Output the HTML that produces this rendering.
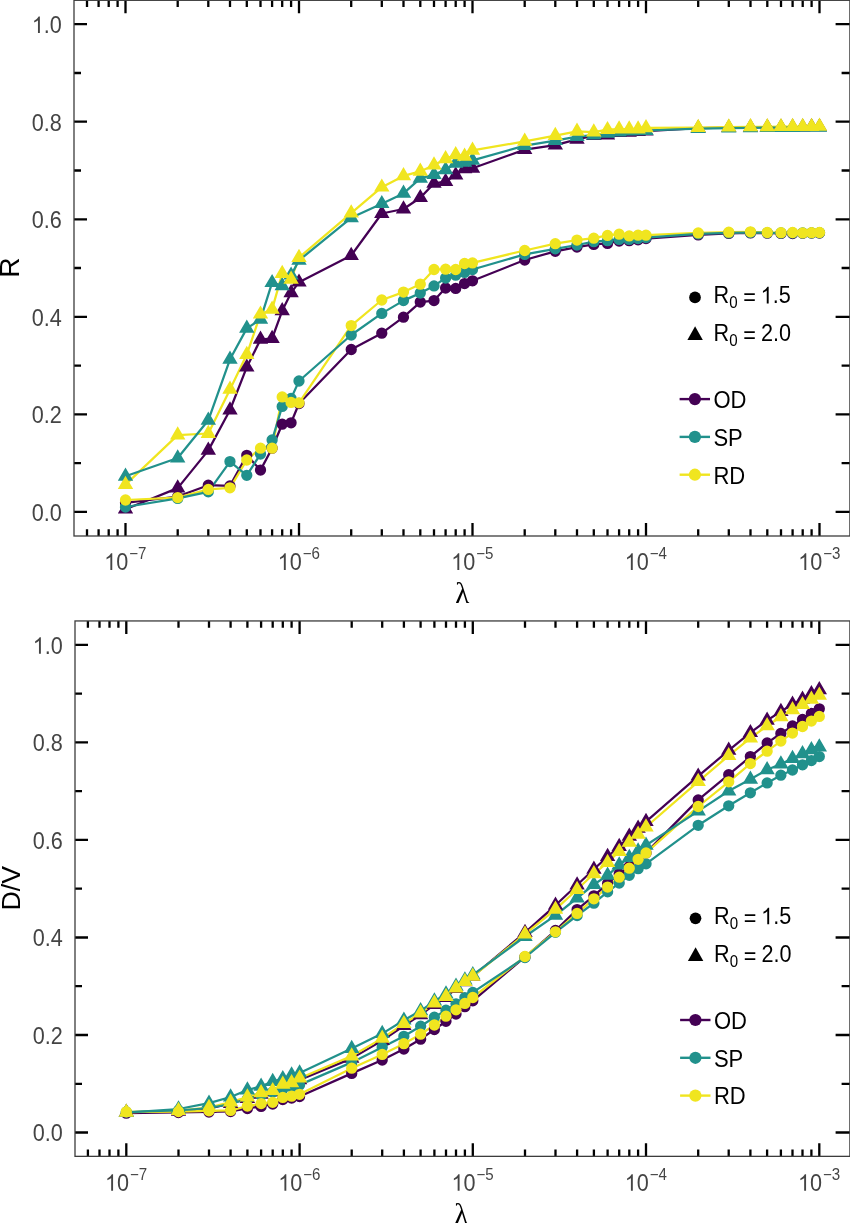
<!DOCTYPE html>
<html><head><meta charset="utf-8"><title>chart</title>
<style>html,body{margin:0;padding:0;background:#fff}svg{display:block;will-change:transform}text{font-family:"Liberation Sans",sans-serif}text.ser{font-family:"Liberation Serif",serif}</style></head><body>
<svg width="850" height="1223" viewBox="0 0 850 1223">
<rect width="850" height="1223" fill="#fff"/>
<polyline points="125.5,502.8 177.7,496.5 208.3,485.2 230.0,485.9 246.8,455.3 260.5,470.1 272.1,448.2 282.2,424.2 291.1,422.8 299.0,403.5 351.2,349.5 381.8,333.2 403.5,317.2 420.3,302.1 434.0,300.6 445.6,288.0 455.7,288.4 464.6,283.6 472.5,280.8 524.7,260.0 555.3,251.3 577.0,247.1 593.8,244.4 607.5,243.4 619.1,241.0 629.2,240.7 638.1,239.8 646.0,238.6 698.2,234.9 728.8,233.4 750.5,232.9 767.3,233.2 781.0,233.4 792.6,233.6 802.7,233.3 811.6,233.1 819.5,233.0" fill="none" stroke="#440154" stroke-width="2.25" stroke-linejoin="round"/>
<polyline points="125.5,509.2 177.7,488.1 208.3,450.4 230.0,410.0 246.8,367.2 260.5,339.4 272.1,338.5 282.2,310.8 291.1,292.8 299.0,282.2 351.2,255.5 381.8,213.5 403.5,209.0 420.3,197.7 434.0,183.4 445.6,181.5 455.7,175.1 464.6,168.9 472.5,168.3 524.7,149.6 555.3,145.2 577.0,139.4 593.8,135.7 607.5,135.1 619.1,132.6 629.2,132.3 638.1,131.6 646.0,131.2 698.2,128.2 728.8,127.7 750.5,127.4 767.3,127.2 781.0,127.2 792.6,127.1 802.7,127.0 811.6,126.9 819.5,126.8" fill="none" stroke="#440154" stroke-width="2.25" stroke-linejoin="round"/>
<polyline points="125.5,500.0 177.7,497.6 208.3,489.4 230.0,487.8 246.8,460.0 260.5,448.2 272.1,448.2 282.2,396.9 291.1,402.4 299.0,402.8 351.2,325.6 381.8,300.0 403.5,292.1 420.3,284.2 434.0,269.5 445.6,269.2 455.7,269.5 464.6,263.5 472.5,262.9 524.7,250.5 555.3,243.7 577.0,240.1 593.8,238.2 607.5,235.4 619.1,234.2 629.2,235.9 638.1,235.2 646.0,235.2 698.2,232.9 728.8,232.2 750.5,231.8 767.3,232.5 781.0,232.7 792.6,232.5 802.7,232.9 811.6,232.7 819.5,232.5" fill="none" stroke="#f0e51f" stroke-width="2.25" stroke-linejoin="round"/>
<polyline points="125.5,484.6 177.7,435.1 208.3,433.5 230.0,389.4 246.8,354.6 260.5,314.2 272.1,309.4 282.2,273.6 291.1,279.4 299.0,257.6 351.2,213.1 381.8,187.2 403.5,175.9 420.3,171.4 434.0,165.1 445.6,158.9 455.7,154.8 464.6,156.3 472.5,150.4 524.7,141.4 555.3,135.6 577.0,131.4 593.8,132.1 607.5,129.7 619.1,129.0 629.2,129.0 638.1,129.0 646.0,127.9 698.2,127.6 728.8,127.1 750.5,126.9 767.3,126.8 781.0,126.7 792.6,126.6 802.7,126.5 811.6,126.5 819.5,126.4" fill="none" stroke="#f0e51f" stroke-width="2.25" stroke-linejoin="round"/>
<polyline points="125.5,507.0 177.7,498.4 208.3,491.8 230.0,461.6 246.8,475.3 260.5,454.1 272.1,440.0 282.2,406.4 291.1,398.4 299.0,381.0 351.2,335.0 381.8,313.4 403.5,300.6 420.3,293.1 434.0,285.9 445.6,278.0 455.7,275.2 464.6,272.4 472.5,269.5 524.7,254.4 555.3,248.8 577.0,245.0 593.8,241.7 607.5,240.7 619.1,239.4 629.2,239.4 638.1,238.6 646.0,237.6 698.2,233.9 728.8,232.9 750.5,232.5 767.3,232.8 781.0,233.0 792.6,232.9 802.7,233.0 811.6,232.9 819.5,232.8" fill="none" stroke="#21918c" stroke-width="2.25" stroke-linejoin="round"/>
<polyline points="125.5,476.3 177.7,458.0 208.3,420.3 230.0,359.3 246.8,328.4 260.5,319.3 272.1,282.7 282.2,285.8 291.1,275.2 299.0,260.4 351.2,217.8 381.8,203.7 403.5,193.4 420.3,178.3 434.0,174.6 445.6,169.8 455.7,163.3 464.6,162.3 472.5,160.4 524.7,145.7 555.3,140.6 577.0,136.6 593.8,135.1 607.5,133.3 619.1,132.0 629.2,131.2 638.1,130.8 646.0,130.5 698.2,128.6 728.8,128.1 750.5,127.9 767.3,127.7 781.0,127.6 792.6,127.5 802.7,127.4 811.6,127.4 819.5,127.3" fill="none" stroke="#21918c" stroke-width="2.25" stroke-linejoin="round"/>
<path d="M119.85 502.8a5.65 5.65 0 1 0 11.3 0a5.65 5.65 0 1 0 -11.3 0zM172.08 496.5a5.65 5.65 0 1 0 11.3 0a5.65 5.65 0 1 0 -11.3 0zM202.63 485.2a5.65 5.65 0 1 0 11.3 0a5.65 5.65 0 1 0 -11.3 0zM224.31 485.9a5.65 5.65 0 1 0 11.3 0a5.65 5.65 0 1 0 -11.3 0zM241.12 455.3a5.65 5.65 0 1 0 11.3 0a5.65 5.65 0 1 0 -11.3 0zM254.86 470.1a5.65 5.65 0 1 0 11.3 0a5.65 5.65 0 1 0 -11.3 0zM266.47 448.2a5.65 5.65 0 1 0 11.3 0a5.65 5.65 0 1 0 -11.3 0zM276.54 424.2a5.65 5.65 0 1 0 11.3 0a5.65 5.65 0 1 0 -11.3 0zM285.41 422.8a5.65 5.65 0 1 0 11.3 0a5.65 5.65 0 1 0 -11.3 0zM293.35 403.5a5.65 5.65 0 1 0 11.3 0a5.65 5.65 0 1 0 -11.3 0zM345.58 349.5a5.65 5.65 0 1 0 11.3 0a5.65 5.65 0 1 0 -11.3 0zM376.13 333.2a5.65 5.65 0 1 0 11.3 0a5.65 5.65 0 1 0 -11.3 0zM397.81 317.2a5.65 5.65 0 1 0 11.3 0a5.65 5.65 0 1 0 -11.3 0zM414.62 302.1a5.65 5.65 0 1 0 11.3 0a5.65 5.65 0 1 0 -11.3 0zM428.36 300.6a5.65 5.65 0 1 0 11.3 0a5.65 5.65 0 1 0 -11.3 0zM439.97 288.0a5.65 5.65 0 1 0 11.3 0a5.65 5.65 0 1 0 -11.3 0zM450.04 288.4a5.65 5.65 0 1 0 11.3 0a5.65 5.65 0 1 0 -11.3 0zM458.91 283.6a5.65 5.65 0 1 0 11.3 0a5.65 5.65 0 1 0 -11.3 0zM466.85 280.8a5.65 5.65 0 1 0 11.3 0a5.65 5.65 0 1 0 -11.3 0zM519.08 260.0a5.65 5.65 0 1 0 11.3 0a5.65 5.65 0 1 0 -11.3 0zM549.63 251.3a5.65 5.65 0 1 0 11.3 0a5.65 5.65 0 1 0 -11.3 0zM571.31 247.1a5.65 5.65 0 1 0 11.3 0a5.65 5.65 0 1 0 -11.3 0zM588.12 244.4a5.65 5.65 0 1 0 11.3 0a5.65 5.65 0 1 0 -11.3 0zM601.86 243.4a5.65 5.65 0 1 0 11.3 0a5.65 5.65 0 1 0 -11.3 0zM613.47 241.0a5.65 5.65 0 1 0 11.3 0a5.65 5.65 0 1 0 -11.3 0zM623.54 240.7a5.65 5.65 0 1 0 11.3 0a5.65 5.65 0 1 0 -11.3 0zM632.41 239.8a5.65 5.65 0 1 0 11.3 0a5.65 5.65 0 1 0 -11.3 0zM640.35 238.6a5.65 5.65 0 1 0 11.3 0a5.65 5.65 0 1 0 -11.3 0zM692.58 234.9a5.65 5.65 0 1 0 11.3 0a5.65 5.65 0 1 0 -11.3 0zM723.13 233.4a5.65 5.65 0 1 0 11.3 0a5.65 5.65 0 1 0 -11.3 0zM744.81 232.9a5.65 5.65 0 1 0 11.3 0a5.65 5.65 0 1 0 -11.3 0zM761.62 233.2a5.65 5.65 0 1 0 11.3 0a5.65 5.65 0 1 0 -11.3 0zM775.36 233.4a5.65 5.65 0 1 0 11.3 0a5.65 5.65 0 1 0 -11.3 0zM786.97 233.6a5.65 5.65 0 1 0 11.3 0a5.65 5.65 0 1 0 -11.3 0zM797.04 233.3a5.65 5.65 0 1 0 11.3 0a5.65 5.65 0 1 0 -11.3 0zM805.91 233.1a5.65 5.65 0 1 0 11.3 0a5.65 5.65 0 1 0 -11.3 0zM813.85 233.0a5.65 5.65 0 1 0 11.3 0a5.65 5.65 0 1 0 -11.3 0z" fill="#440154"/>
<path d="M125.5 500.4l7.7 13.2h-15.4zM177.7 479.3l7.7 13.2h-15.4zM208.3 441.6l7.7 13.2h-15.4zM230.0 401.2l7.7 13.2h-15.4zM246.8 358.4l7.7 13.2h-15.4zM260.5 330.6l7.7 13.2h-15.4zM272.1 329.7l7.7 13.2h-15.4zM282.2 302.0l7.7 13.2h-15.4zM291.1 284.0l7.7 13.2h-15.4zM299.0 273.4l7.7 13.2h-15.4zM351.2 246.7l7.7 13.2h-15.4zM381.8 204.7l7.7 13.2h-15.4zM403.5 200.2l7.7 13.2h-15.4zM420.3 188.9l7.7 13.2h-15.4zM434.0 174.6l7.7 13.2h-15.4zM445.6 172.7l7.7 13.2h-15.4zM455.7 166.3l7.7 13.2h-15.4zM464.6 160.1l7.7 13.2h-15.4zM472.5 159.5l7.7 13.2h-15.4zM524.7 140.8l7.7 13.2h-15.4zM555.3 136.4l7.7 13.2h-15.4zM577.0 130.6l7.7 13.2h-15.4zM593.8 126.9l7.7 13.2h-15.4zM607.5 126.3l7.7 13.2h-15.4zM619.1 123.8l7.7 13.2h-15.4zM629.2 123.5l7.7 13.2h-15.4zM638.1 122.8l7.7 13.2h-15.4zM646.0 122.4l7.7 13.2h-15.4zM698.2 119.4l7.7 13.2h-15.4zM728.8 118.9l7.7 13.2h-15.4zM750.5 118.6l7.7 13.2h-15.4zM767.3 118.4l7.7 13.2h-15.4zM781.0 118.4l7.7 13.2h-15.4zM792.6 118.3l7.7 13.2h-15.4zM802.7 118.2l7.7 13.2h-15.4zM811.6 118.1l7.7 13.2h-15.4zM819.5 118.0l7.7 13.2h-15.4z" fill="#440154"/>
<path d="M119.85 507.0a5.65 5.65 0 1 0 11.3 0a5.65 5.65 0 1 0 -11.3 0zM172.08 498.4a5.65 5.65 0 1 0 11.3 0a5.65 5.65 0 1 0 -11.3 0zM202.63 491.8a5.65 5.65 0 1 0 11.3 0a5.65 5.65 0 1 0 -11.3 0zM224.31 461.6a5.65 5.65 0 1 0 11.3 0a5.65 5.65 0 1 0 -11.3 0zM241.12 475.3a5.65 5.65 0 1 0 11.3 0a5.65 5.65 0 1 0 -11.3 0zM254.86 454.1a5.65 5.65 0 1 0 11.3 0a5.65 5.65 0 1 0 -11.3 0zM266.47 440.0a5.65 5.65 0 1 0 11.3 0a5.65 5.65 0 1 0 -11.3 0zM276.54 406.4a5.65 5.65 0 1 0 11.3 0a5.65 5.65 0 1 0 -11.3 0zM285.41 398.4a5.65 5.65 0 1 0 11.3 0a5.65 5.65 0 1 0 -11.3 0zM293.35 381.0a5.65 5.65 0 1 0 11.3 0a5.65 5.65 0 1 0 -11.3 0zM345.58 335.0a5.65 5.65 0 1 0 11.3 0a5.65 5.65 0 1 0 -11.3 0zM376.13 313.4a5.65 5.65 0 1 0 11.3 0a5.65 5.65 0 1 0 -11.3 0zM397.81 300.6a5.65 5.65 0 1 0 11.3 0a5.65 5.65 0 1 0 -11.3 0zM414.62 293.1a5.65 5.65 0 1 0 11.3 0a5.65 5.65 0 1 0 -11.3 0zM428.36 285.9a5.65 5.65 0 1 0 11.3 0a5.65 5.65 0 1 0 -11.3 0zM439.97 278.0a5.65 5.65 0 1 0 11.3 0a5.65 5.65 0 1 0 -11.3 0zM450.04 275.2a5.65 5.65 0 1 0 11.3 0a5.65 5.65 0 1 0 -11.3 0zM458.91 272.4a5.65 5.65 0 1 0 11.3 0a5.65 5.65 0 1 0 -11.3 0zM466.85 269.5a5.65 5.65 0 1 0 11.3 0a5.65 5.65 0 1 0 -11.3 0zM519.08 254.4a5.65 5.65 0 1 0 11.3 0a5.65 5.65 0 1 0 -11.3 0zM549.63 248.8a5.65 5.65 0 1 0 11.3 0a5.65 5.65 0 1 0 -11.3 0zM571.31 245.0a5.65 5.65 0 1 0 11.3 0a5.65 5.65 0 1 0 -11.3 0zM588.12 241.7a5.65 5.65 0 1 0 11.3 0a5.65 5.65 0 1 0 -11.3 0zM601.86 240.7a5.65 5.65 0 1 0 11.3 0a5.65 5.65 0 1 0 -11.3 0zM613.47 239.4a5.65 5.65 0 1 0 11.3 0a5.65 5.65 0 1 0 -11.3 0zM623.54 239.4a5.65 5.65 0 1 0 11.3 0a5.65 5.65 0 1 0 -11.3 0zM632.41 238.6a5.65 5.65 0 1 0 11.3 0a5.65 5.65 0 1 0 -11.3 0zM640.35 237.6a5.65 5.65 0 1 0 11.3 0a5.65 5.65 0 1 0 -11.3 0zM692.58 233.9a5.65 5.65 0 1 0 11.3 0a5.65 5.65 0 1 0 -11.3 0zM723.13 232.9a5.65 5.65 0 1 0 11.3 0a5.65 5.65 0 1 0 -11.3 0zM744.81 232.5a5.65 5.65 0 1 0 11.3 0a5.65 5.65 0 1 0 -11.3 0zM761.62 232.8a5.65 5.65 0 1 0 11.3 0a5.65 5.65 0 1 0 -11.3 0zM775.36 233.0a5.65 5.65 0 1 0 11.3 0a5.65 5.65 0 1 0 -11.3 0zM786.97 232.9a5.65 5.65 0 1 0 11.3 0a5.65 5.65 0 1 0 -11.3 0zM797.04 233.0a5.65 5.65 0 1 0 11.3 0a5.65 5.65 0 1 0 -11.3 0zM805.91 232.9a5.65 5.65 0 1 0 11.3 0a5.65 5.65 0 1 0 -11.3 0zM813.85 232.8a5.65 5.65 0 1 0 11.3 0a5.65 5.65 0 1 0 -11.3 0z" fill="#21918c"/>
<path d="M125.5 467.5l7.7 13.2h-15.4zM177.7 449.2l7.7 13.2h-15.4zM208.3 411.5l7.7 13.2h-15.4zM230.0 350.5l7.7 13.2h-15.4zM246.8 319.6l7.7 13.2h-15.4zM260.5 310.5l7.7 13.2h-15.4zM272.1 273.9l7.7 13.2h-15.4zM282.2 277.0l7.7 13.2h-15.4zM291.1 266.4l7.7 13.2h-15.4zM299.0 251.6l7.7 13.2h-15.4zM351.2 209.0l7.7 13.2h-15.4zM381.8 194.9l7.7 13.2h-15.4zM403.5 184.6l7.7 13.2h-15.4zM420.3 169.5l7.7 13.2h-15.4zM434.0 165.8l7.7 13.2h-15.4zM445.6 161.0l7.7 13.2h-15.4zM455.7 154.5l7.7 13.2h-15.4zM464.6 153.5l7.7 13.2h-15.4zM472.5 151.6l7.7 13.2h-15.4zM524.7 136.9l7.7 13.2h-15.4zM555.3 131.8l7.7 13.2h-15.4zM577.0 127.8l7.7 13.2h-15.4zM593.8 126.3l7.7 13.2h-15.4zM607.5 124.5l7.7 13.2h-15.4zM619.1 123.2l7.7 13.2h-15.4zM629.2 122.4l7.7 13.2h-15.4zM638.1 122.0l7.7 13.2h-15.4zM646.0 121.7l7.7 13.2h-15.4zM698.2 119.8l7.7 13.2h-15.4zM728.8 119.3l7.7 13.2h-15.4zM750.5 119.1l7.7 13.2h-15.4zM767.3 118.9l7.7 13.2h-15.4zM781.0 118.8l7.7 13.2h-15.4zM792.6 118.7l7.7 13.2h-15.4zM802.7 118.6l7.7 13.2h-15.4zM811.6 118.6l7.7 13.2h-15.4zM819.5 118.5l7.7 13.2h-15.4z" fill="#21918c"/>
<path d="M119.85 500.0a5.65 5.65 0 1 0 11.3 0a5.65 5.65 0 1 0 -11.3 0zM172.08 497.6a5.65 5.65 0 1 0 11.3 0a5.65 5.65 0 1 0 -11.3 0zM202.63 489.4a5.65 5.65 0 1 0 11.3 0a5.65 5.65 0 1 0 -11.3 0zM224.31 487.8a5.65 5.65 0 1 0 11.3 0a5.65 5.65 0 1 0 -11.3 0zM241.12 460.0a5.65 5.65 0 1 0 11.3 0a5.65 5.65 0 1 0 -11.3 0zM254.86 448.2a5.65 5.65 0 1 0 11.3 0a5.65 5.65 0 1 0 -11.3 0zM266.47 448.2a5.65 5.65 0 1 0 11.3 0a5.65 5.65 0 1 0 -11.3 0zM276.54 396.9a5.65 5.65 0 1 0 11.3 0a5.65 5.65 0 1 0 -11.3 0zM285.41 402.4a5.65 5.65 0 1 0 11.3 0a5.65 5.65 0 1 0 -11.3 0zM293.35 402.8a5.65 5.65 0 1 0 11.3 0a5.65 5.65 0 1 0 -11.3 0zM345.58 325.6a5.65 5.65 0 1 0 11.3 0a5.65 5.65 0 1 0 -11.3 0zM376.13 300.0a5.65 5.65 0 1 0 11.3 0a5.65 5.65 0 1 0 -11.3 0zM397.81 292.1a5.65 5.65 0 1 0 11.3 0a5.65 5.65 0 1 0 -11.3 0zM414.62 284.2a5.65 5.65 0 1 0 11.3 0a5.65 5.65 0 1 0 -11.3 0zM428.36 269.5a5.65 5.65 0 1 0 11.3 0a5.65 5.65 0 1 0 -11.3 0zM439.97 269.2a5.65 5.65 0 1 0 11.3 0a5.65 5.65 0 1 0 -11.3 0zM450.04 269.5a5.65 5.65 0 1 0 11.3 0a5.65 5.65 0 1 0 -11.3 0zM458.91 263.5a5.65 5.65 0 1 0 11.3 0a5.65 5.65 0 1 0 -11.3 0zM466.85 262.9a5.65 5.65 0 1 0 11.3 0a5.65 5.65 0 1 0 -11.3 0zM519.08 250.5a5.65 5.65 0 1 0 11.3 0a5.65 5.65 0 1 0 -11.3 0zM549.63 243.7a5.65 5.65 0 1 0 11.3 0a5.65 5.65 0 1 0 -11.3 0zM571.31 240.1a5.65 5.65 0 1 0 11.3 0a5.65 5.65 0 1 0 -11.3 0zM588.12 238.2a5.65 5.65 0 1 0 11.3 0a5.65 5.65 0 1 0 -11.3 0zM601.86 235.4a5.65 5.65 0 1 0 11.3 0a5.65 5.65 0 1 0 -11.3 0zM613.47 234.2a5.65 5.65 0 1 0 11.3 0a5.65 5.65 0 1 0 -11.3 0zM623.54 235.9a5.65 5.65 0 1 0 11.3 0a5.65 5.65 0 1 0 -11.3 0zM632.41 235.2a5.65 5.65 0 1 0 11.3 0a5.65 5.65 0 1 0 -11.3 0zM640.35 235.2a5.65 5.65 0 1 0 11.3 0a5.65 5.65 0 1 0 -11.3 0zM692.58 232.9a5.65 5.65 0 1 0 11.3 0a5.65 5.65 0 1 0 -11.3 0zM723.13 232.2a5.65 5.65 0 1 0 11.3 0a5.65 5.65 0 1 0 -11.3 0zM744.81 231.8a5.65 5.65 0 1 0 11.3 0a5.65 5.65 0 1 0 -11.3 0zM761.62 232.5a5.65 5.65 0 1 0 11.3 0a5.65 5.65 0 1 0 -11.3 0zM775.36 232.7a5.65 5.65 0 1 0 11.3 0a5.65 5.65 0 1 0 -11.3 0zM786.97 232.5a5.65 5.65 0 1 0 11.3 0a5.65 5.65 0 1 0 -11.3 0zM797.04 232.9a5.65 5.65 0 1 0 11.3 0a5.65 5.65 0 1 0 -11.3 0zM805.91 232.7a5.65 5.65 0 1 0 11.3 0a5.65 5.65 0 1 0 -11.3 0zM813.85 232.5a5.65 5.65 0 1 0 11.3 0a5.65 5.65 0 1 0 -11.3 0z" fill="#f0e51f"/>
<path d="M125.5 475.8l7.7 13.2h-15.4zM177.7 426.3l7.7 13.2h-15.4zM208.3 424.7l7.7 13.2h-15.4zM230.0 380.6l7.7 13.2h-15.4zM246.8 345.8l7.7 13.2h-15.4zM260.5 305.4l7.7 13.2h-15.4zM272.1 300.6l7.7 13.2h-15.4zM282.2 264.8l7.7 13.2h-15.4zM291.1 270.6l7.7 13.2h-15.4zM299.0 248.8l7.7 13.2h-15.4zM351.2 204.3l7.7 13.2h-15.4zM381.8 178.4l7.7 13.2h-15.4zM403.5 167.1l7.7 13.2h-15.4zM420.3 162.6l7.7 13.2h-15.4zM434.0 156.3l7.7 13.2h-15.4zM445.6 150.1l7.7 13.2h-15.4zM455.7 146.0l7.7 13.2h-15.4zM464.6 147.5l7.7 13.2h-15.4zM472.5 141.6l7.7 13.2h-15.4zM524.7 132.6l7.7 13.2h-15.4zM555.3 126.8l7.7 13.2h-15.4zM577.0 122.6l7.7 13.2h-15.4zM593.8 123.3l7.7 13.2h-15.4zM607.5 120.9l7.7 13.2h-15.4zM619.1 120.2l7.7 13.2h-15.4zM629.2 120.2l7.7 13.2h-15.4zM638.1 120.2l7.7 13.2h-15.4zM646.0 119.1l7.7 13.2h-15.4zM698.2 118.8l7.7 13.2h-15.4zM728.8 118.3l7.7 13.2h-15.4zM750.5 118.1l7.7 13.2h-15.4zM767.3 118.0l7.7 13.2h-15.4zM781.0 117.9l7.7 13.2h-15.4zM792.6 117.8l7.7 13.2h-15.4zM802.7 117.7l7.7 13.2h-15.4zM811.6 117.7l7.7 13.2h-15.4zM819.5 117.6l7.7 13.2h-15.4z" fill="#f0e51f"/>
<path d="M74.0 24.2h13M849.9 24.2h-14.3" stroke="#000" stroke-width="2.3"/>
<path d="M74.0 73.0h7M849.9 73.0h-8.3" stroke="#000" stroke-width="2.3"/>
<path d="M74.0 121.7h13M849.9 121.7h-14.3" stroke="#000" stroke-width="2.3"/>
<path d="M74.0 170.5h7M849.9 170.5h-8.3" stroke="#000" stroke-width="2.3"/>
<path d="M74.0 219.3h13M849.9 219.3h-14.3" stroke="#000" stroke-width="2.3"/>
<path d="M74.0 268.0h7M849.9 268.0h-8.3" stroke="#000" stroke-width="2.3"/>
<path d="M74.0 316.8h13M849.9 316.8h-14.3" stroke="#000" stroke-width="2.3"/>
<path d="M74.0 365.6h7M849.9 365.6h-8.3" stroke="#000" stroke-width="2.3"/>
<path d="M74.0 414.4h13M849.9 414.4h-14.3" stroke="#000" stroke-width="2.3"/>
<path d="M74.0 463.1h7M849.9 463.1h-8.3" stroke="#000" stroke-width="2.3"/>
<path d="M74.0 511.9h13M849.9 511.9h-14.3" stroke="#000" stroke-width="2.3"/>
<path d="M87.0 0.3v6.8M87.0 536.0v-6.8" stroke="#000" stroke-width="2.3"/>
<path d="M98.6 0.3v6.8M98.6 536.0v-6.8" stroke="#000" stroke-width="2.3"/>
<path d="M108.7 0.3v6.8M108.7 536.0v-6.8" stroke="#000" stroke-width="2.3"/>
<path d="M117.6 0.3v6.8M117.6 536.0v-6.8" stroke="#000" stroke-width="2.3"/>
<path d="M125.5 0.3v13M125.5 536.0v-13" stroke="#000" stroke-width="2.3"/>
<path d="M177.7 0.3v6.8M177.7 536.0v-6.8" stroke="#000" stroke-width="2.3"/>
<path d="M208.3 0.3v6.8M208.3 536.0v-6.8" stroke="#000" stroke-width="2.3"/>
<path d="M230.0 0.3v6.8M230.0 536.0v-6.8" stroke="#000" stroke-width="2.3"/>
<path d="M246.8 0.3v6.8M246.8 536.0v-6.8" stroke="#000" stroke-width="2.3"/>
<path d="M260.5 0.3v6.8M260.5 536.0v-6.8" stroke="#000" stroke-width="2.3"/>
<path d="M272.1 0.3v6.8M272.1 536.0v-6.8" stroke="#000" stroke-width="2.3"/>
<path d="M282.2 0.3v6.8M282.2 536.0v-6.8" stroke="#000" stroke-width="2.3"/>
<path d="M291.1 0.3v6.8M291.1 536.0v-6.8" stroke="#000" stroke-width="2.3"/>
<path d="M299.0 0.3v13M299.0 536.0v-13" stroke="#000" stroke-width="2.3"/>
<path d="M351.2 0.3v6.8M351.2 536.0v-6.8" stroke="#000" stroke-width="2.3"/>
<path d="M381.8 0.3v6.8M381.8 536.0v-6.8" stroke="#000" stroke-width="2.3"/>
<path d="M403.5 0.3v6.8M403.5 536.0v-6.8" stroke="#000" stroke-width="2.3"/>
<path d="M420.3 0.3v6.8M420.3 536.0v-6.8" stroke="#000" stroke-width="2.3"/>
<path d="M434.0 0.3v6.8M434.0 536.0v-6.8" stroke="#000" stroke-width="2.3"/>
<path d="M445.6 0.3v6.8M445.6 536.0v-6.8" stroke="#000" stroke-width="2.3"/>
<path d="M455.7 0.3v6.8M455.7 536.0v-6.8" stroke="#000" stroke-width="2.3"/>
<path d="M464.6 0.3v6.8M464.6 536.0v-6.8" stroke="#000" stroke-width="2.3"/>
<path d="M472.5 0.3v13M472.5 536.0v-13" stroke="#000" stroke-width="2.3"/>
<path d="M524.7 0.3v6.8M524.7 536.0v-6.8" stroke="#000" stroke-width="2.3"/>
<path d="M555.3 0.3v6.8M555.3 536.0v-6.8" stroke="#000" stroke-width="2.3"/>
<path d="M577.0 0.3v6.8M577.0 536.0v-6.8" stroke="#000" stroke-width="2.3"/>
<path d="M593.8 0.3v6.8M593.8 536.0v-6.8" stroke="#000" stroke-width="2.3"/>
<path d="M607.5 0.3v6.8M607.5 536.0v-6.8" stroke="#000" stroke-width="2.3"/>
<path d="M619.1 0.3v6.8M619.1 536.0v-6.8" stroke="#000" stroke-width="2.3"/>
<path d="M629.2 0.3v6.8M629.2 536.0v-6.8" stroke="#000" stroke-width="2.3"/>
<path d="M638.1 0.3v6.8M638.1 536.0v-6.8" stroke="#000" stroke-width="2.3"/>
<path d="M646.0 0.3v13M646.0 536.0v-13" stroke="#000" stroke-width="2.3"/>
<path d="M698.2 0.3v6.8M698.2 536.0v-6.8" stroke="#000" stroke-width="2.3"/>
<path d="M728.8 0.3v6.8M728.8 536.0v-6.8" stroke="#000" stroke-width="2.3"/>
<path d="M750.5 0.3v6.8M750.5 536.0v-6.8" stroke="#000" stroke-width="2.3"/>
<path d="M767.3 0.3v6.8M767.3 536.0v-6.8" stroke="#000" stroke-width="2.3"/>
<path d="M781.0 0.3v6.8M781.0 536.0v-6.8" stroke="#000" stroke-width="2.3"/>
<path d="M792.6 0.3v6.8M792.6 536.0v-6.8" stroke="#000" stroke-width="2.3"/>
<path d="M802.7 0.3v6.8M802.7 536.0v-6.8" stroke="#000" stroke-width="2.3"/>
<path d="M811.6 0.3v6.8M811.6 536.0v-6.8" stroke="#000" stroke-width="2.3"/>
<path d="M819.5 0.3v13M819.5 536.0v-13" stroke="#000" stroke-width="2.3"/>
<rect x="74.0" y="0.3" width="775.9" height="535.7" fill="none" stroke="#3c3c3c" stroke-width="1.3"/>
<g transform="translate(31.81,33.10) scale(0.975,1.04)" fill="#444444"><path transform="translate(0.00,0) scale(0.01084,-0.01084)" d="M763 0H583V1147Q518 1085 412.5 1023Q307 961 223 930V1104Q374 1175 487 1276Q600 1377 647 1472H763Z"/><text x="12.34" y="0" font-size="22.2">.0</text></g>
<g transform="translate(31.81,130.64) scale(0.975,1.04)" fill="#444444"><text x="0.00" y="0" font-size="22.2">0.8</text></g>
<g transform="translate(31.81,228.18) scale(0.975,1.04)" fill="#444444"><text x="0.00" y="0" font-size="22.2">0.6</text></g>
<g transform="translate(31.81,325.72) scale(0.975,1.04)" fill="#444444"><text x="0.00" y="0" font-size="22.2">0.4</text></g>
<g transform="translate(31.81,423.26) scale(0.975,1.04)" fill="#444444"><text x="0.00" y="0" font-size="22.2">0.2</text></g>
<g transform="translate(31.81,520.80) scale(0.975,1.04)" fill="#444444"><text x="0.00" y="0" font-size="22.2">0.0</text></g>
<g transform="translate(104.20,569.90) scale(0.975,1.04)" fill="#444444"><path transform="translate(0.00,0) scale(0.01084,-0.01084)" d="M763 0H583V1147Q518 1085 412.5 1023Q307 961 223 930V1104Q374 1175 487 1276Q600 1377 647 1472H763Z"/><text x="12.34" y="0" font-size="22.2">0</text></g>
<g transform="translate(129.17,559.00) scale(0.975,1.04)" fill="#444444"><text x="0.00" y="0" font-size="15.5">−7</text></g>
<g transform="translate(277.70,569.90) scale(0.975,1.04)" fill="#444444"><path transform="translate(0.00,0) scale(0.01084,-0.01084)" d="M763 0H583V1147Q518 1085 412.5 1023Q307 961 223 930V1104Q374 1175 487 1276Q600 1377 647 1472H763Z"/><text x="12.34" y="0" font-size="22.2">0</text></g>
<g transform="translate(302.67,559.00) scale(0.975,1.04)" fill="#444444"><text x="0.00" y="0" font-size="15.5">−6</text></g>
<g transform="translate(451.20,569.90) scale(0.975,1.04)" fill="#444444"><path transform="translate(0.00,0) scale(0.01084,-0.01084)" d="M763 0H583V1147Q518 1085 412.5 1023Q307 961 223 930V1104Q374 1175 487 1276Q600 1377 647 1472H763Z"/><text x="12.34" y="0" font-size="22.2">0</text></g>
<g transform="translate(476.17,559.00) scale(0.975,1.04)" fill="#444444"><text x="0.00" y="0" font-size="15.5">−5</text></g>
<g transform="translate(624.70,569.90) scale(0.975,1.04)" fill="#444444"><path transform="translate(0.00,0) scale(0.01084,-0.01084)" d="M763 0H583V1147Q518 1085 412.5 1023Q307 961 223 930V1104Q374 1175 487 1276Q600 1377 647 1472H763Z"/><text x="12.34" y="0" font-size="22.2">0</text></g>
<g transform="translate(649.67,559.00) scale(0.975,1.04)" fill="#444444"><text x="0.00" y="0" font-size="15.5">−4</text></g>
<g transform="translate(798.20,569.90) scale(0.975,1.04)" fill="#444444"><path transform="translate(0.00,0) scale(0.01084,-0.01084)" d="M763 0H583V1147Q518 1085 412.5 1023Q307 961 223 930V1104Q374 1175 487 1276Q600 1377 647 1472H763Z"/><text x="12.34" y="0" font-size="22.2">0</text></g>
<g transform="translate(823.17,559.00) scale(0.975,1.04)" fill="#444444"><text x="0.00" y="0" font-size="15.5">−3</text></g>
<text x="462.3" y="603.2" text-anchor="middle" class="ser" font-size="29" fill="#000">λ</text>
<g transform="translate(0.0,0)">
<circle cx="695" cy="297.4" r="5.85" fill="#000"/>
<path d="M695.1 326.3l7.7 13.7h-15.4z" fill="#000"/>
<text transform="translate(713.40,303.40) scale(0.975,1.04)" font-size="22.2" fill="#000">R</text>
<text transform="translate(729.30,308.00) scale(0.975,1.04)" font-size="15.5" fill="#000">0</text>
<text transform="translate(743.20,305.20) scale(0.975,1.04)" font-size="22.2" fill="#000">=</text>
<g transform="translate(760.60,303.40) scale(0.975,1.04)" fill="#000"><path transform="translate(0.00,0) scale(0.01084,-0.01084)" d="M763 0H583V1147Q518 1085 412.5 1023Q307 961 223 930V1104Q374 1175 487 1276Q600 1377 647 1472H763Z"/><text x="12.34" y="0" font-size="22.2">.5</text></g>
<text transform="translate(713.40,341.30) scale(0.975,1.04)" font-size="22.2" fill="#000">R</text>
<text transform="translate(729.30,345.90) scale(0.975,1.04)" font-size="15.5" fill="#000">0</text>
<text transform="translate(743.20,343.10) scale(0.975,1.04)" font-size="22.2" fill="#000">=</text>
<g transform="translate(761.00,341.30) scale(0.975,1.04)" fill="#000"><text x="0.00" y="0" font-size="22.2">2.0</text></g>
<path d="M679.6 399.1H710" stroke="#440154" stroke-width="2.4"/>
<circle cx="694.9" cy="399.1" r="6.1" fill="#440154"/>
<text transform="translate(713.40,407.90) scale(0.975,1.04)" font-size="22.6" fill="#000">OD</text>
<path d="M679.6 436.9H710" stroke="#21918c" stroke-width="2.4"/>
<circle cx="694.9" cy="436.9" r="6.1" fill="#21918c"/>
<text transform="translate(713.40,445.70) scale(0.975,1.04)" font-size="22.6" fill="#000">SP</text>
<path d="M679.6 474.7H710" stroke="#f0e51f" stroke-width="2.4"/>
<circle cx="694.9" cy="474.7" r="6.1" fill="#f0e51f"/>
<text transform="translate(713.40,483.50) scale(0.975,1.04)" font-size="22.6" fill="#000">RD</text>
</g>
<text transform="translate(19.2,267.5) rotate(-90)" text-anchor="middle" font-size="28.3" fill="#000">R</text>
<polyline points="126.3,1113.2 178.5,1112.5 209.0,1112.0 230.6,1111.5 247.4,1108.5 261.1,1106.4 272.7,1104.0 282.8,1099.5 291.6,1098.0 299.6,1096.5 351.7,1073.4 382.2,1060.0 403.9,1049.0 420.6,1039.2 434.4,1029.5 446.0,1021.3 456.0,1014.0 464.9,1006.7 472.8,1000.8 525.0,957.0 555.5,930.5 577.1,909.6 593.9,895.8 607.6,883.6 619.2,874.0 629.3,866.6 638.1,858.8 646.0,852.9 698.2,799.9 728.7,774.7 750.4,756.6 767.1,742.9 780.9,733.5 792.5,726.0 802.5,719.4 811.4,713.5 819.3,708.8" fill="none" stroke="#440154" stroke-width="2.25" stroke-linejoin="round"/>
<polyline points="126.3,1112.3 178.5,1111.4 209.0,1108.7 230.6,1103.5 247.4,1098.5 261.1,1094.3 272.7,1092.2 282.8,1085.8 291.6,1084.4 299.6,1079.9 351.7,1058.4 382.2,1040.6 403.9,1025.7 420.6,1014.9 434.4,1004.6 446.0,997.5 456.0,988.5 464.9,981.8 472.8,976.3 525.0,932.6 555.5,905.3 577.1,885.0 593.9,869.3 607.6,856.5 619.2,846.5 629.3,836.4 638.1,828.3 646.0,821.6 698.2,776.2 728.7,750.3 750.4,732.7 767.1,720.4 780.9,711.5 792.5,704.4 802.5,699.3 811.4,693.9 819.3,689.9" fill="none" stroke="#440154" stroke-width="2.25" stroke-linejoin="round"/>
<polyline points="126.3,1111.8 178.5,1111.5 209.0,1110.8 230.6,1110.4 247.4,1106.1 261.1,1103.6 272.7,1102.3 282.8,1097.4 291.6,1096.2 299.6,1094.3 351.7,1068.2 382.2,1054.4 403.9,1043.7 420.6,1034.2 434.4,1025.0 446.0,1016.2 456.0,1009.8 464.9,1003.4 472.8,997.5 525.0,956.5 555.5,931.8 577.1,913.4 593.9,898.8 607.6,887.1 619.2,877.2 629.3,868.2 638.1,859.3 646.0,852.9 698.2,806.5 728.7,781.8 750.4,763.6 767.1,751.2 780.9,741.1 792.5,733.1 802.5,726.5 811.4,721.1 819.3,716.4" fill="none" stroke="#f0e51f" stroke-width="2.25" stroke-linejoin="round"/>
<polyline points="126.3,1112.3 178.5,1110.6 209.0,1107.5 230.6,1102.0 247.4,1097.0 261.1,1092.8 272.7,1090.7 282.8,1084.3 291.6,1082.9 299.6,1078.2 351.7,1056.0 382.2,1038.4 403.9,1023.7 420.6,1013.1 434.4,1003.0 446.0,996.5 456.0,988.0 464.9,981.6 472.8,976.3 525.0,934.1 555.5,909.3 577.1,889.5 593.9,873.8 607.6,862.5 619.2,851.5 629.3,842.4 638.1,834.3 646.0,827.0 698.2,781.6 728.7,755.7 750.4,738.1 767.1,725.8 780.9,716.9 792.5,709.8 802.5,704.7 811.4,699.3 819.3,695.3" fill="none" stroke="#f0e51f" stroke-width="2.25" stroke-linejoin="round"/>
<polyline points="126.3,1112.0 178.5,1110.5 209.0,1108.0 230.6,1104.0 247.4,1099.0 261.1,1095.5 272.7,1092.0 282.8,1089.2 291.6,1087.0 299.6,1084.9 351.7,1062.4 382.2,1047.3 403.9,1036.3 420.6,1026.2 434.4,1017.2 446.0,1010.2 456.0,1003.8 464.9,997.6 472.8,992.4 525.0,957.5 555.5,932.3 577.1,915.5 593.9,903.2 607.6,891.8 619.2,883.1 629.3,875.3 638.1,868.7 646.0,863.8 698.2,825.3 728.7,805.8 750.4,792.8 767.1,782.9 780.9,775.2 792.5,770.0 802.5,764.8 811.4,760.6 819.3,756.6" fill="none" stroke="#21918c" stroke-width="2.25" stroke-linejoin="round"/>
<polyline points="126.3,1112.5 178.5,1109.0 209.0,1103.2 230.6,1097.0 247.4,1090.0 261.1,1086.4 272.7,1081.5 282.8,1078.7 291.6,1075.1 299.6,1073.0 351.7,1048.6 382.2,1033.6 403.9,1020.2 420.6,1010.8 434.4,1001.1 446.0,994.1 456.0,986.4 464.9,980.0 472.8,974.9 525.0,936.5 555.5,915.4 577.1,898.0 593.9,884.5 607.6,875.4 619.2,865.1 629.3,857.6 638.1,851.0 646.0,845.3 698.2,811.1 728.7,791.0 750.4,779.3 767.1,769.8 780.9,764.0 792.5,758.6 802.5,753.8 811.4,749.8 819.3,747.0" fill="none" stroke="#21918c" stroke-width="2.25" stroke-linejoin="round"/>
<path d="M120.65 1113.2a5.65 5.65 0 1 0 11.3 0a5.65 5.65 0 1 0 -11.3 0zM172.80 1112.5a5.65 5.65 0 1 0 11.3 0a5.65 5.65 0 1 0 -11.3 0zM203.31 1112.0a5.65 5.65 0 1 0 11.3 0a5.65 5.65 0 1 0 -11.3 0zM224.96 1111.5a5.65 5.65 0 1 0 11.3 0a5.65 5.65 0 1 0 -11.3 0zM241.75 1108.5a5.65 5.65 0 1 0 11.3 0a5.65 5.65 0 1 0 -11.3 0zM255.46 1106.4a5.65 5.65 0 1 0 11.3 0a5.65 5.65 0 1 0 -11.3 0zM267.06 1104.0a5.65 5.65 0 1 0 11.3 0a5.65 5.65 0 1 0 -11.3 0zM277.11 1099.5a5.65 5.65 0 1 0 11.3 0a5.65 5.65 0 1 0 -11.3 0zM285.97 1098.0a5.65 5.65 0 1 0 11.3 0a5.65 5.65 0 1 0 -11.3 0zM293.90 1096.5a5.65 5.65 0 1 0 11.3 0a5.65 5.65 0 1 0 -11.3 0zM346.05 1073.4a5.65 5.65 0 1 0 11.3 0a5.65 5.65 0 1 0 -11.3 0zM376.56 1060.0a5.65 5.65 0 1 0 11.3 0a5.65 5.65 0 1 0 -11.3 0zM398.21 1049.0a5.65 5.65 0 1 0 11.3 0a5.65 5.65 0 1 0 -11.3 0zM415.00 1039.2a5.65 5.65 0 1 0 11.3 0a5.65 5.65 0 1 0 -11.3 0zM428.71 1029.5a5.65 5.65 0 1 0 11.3 0a5.65 5.65 0 1 0 -11.3 0zM440.31 1021.3a5.65 5.65 0 1 0 11.3 0a5.65 5.65 0 1 0 -11.3 0zM450.36 1014.0a5.65 5.65 0 1 0 11.3 0a5.65 5.65 0 1 0 -11.3 0zM459.22 1006.7a5.65 5.65 0 1 0 11.3 0a5.65 5.65 0 1 0 -11.3 0zM467.15 1000.8a5.65 5.65 0 1 0 11.3 0a5.65 5.65 0 1 0 -11.3 0zM519.30 957.0a5.65 5.65 0 1 0 11.3 0a5.65 5.65 0 1 0 -11.3 0zM549.81 930.5a5.65 5.65 0 1 0 11.3 0a5.65 5.65 0 1 0 -11.3 0zM571.46 909.6a5.65 5.65 0 1 0 11.3 0a5.65 5.65 0 1 0 -11.3 0zM588.25 895.8a5.65 5.65 0 1 0 11.3 0a5.65 5.65 0 1 0 -11.3 0zM601.96 883.6a5.65 5.65 0 1 0 11.3 0a5.65 5.65 0 1 0 -11.3 0zM613.56 874.0a5.65 5.65 0 1 0 11.3 0a5.65 5.65 0 1 0 -11.3 0zM623.61 866.6a5.65 5.65 0 1 0 11.3 0a5.65 5.65 0 1 0 -11.3 0zM632.47 858.8a5.65 5.65 0 1 0 11.3 0a5.65 5.65 0 1 0 -11.3 0zM640.40 852.9a5.65 5.65 0 1 0 11.3 0a5.65 5.65 0 1 0 -11.3 0zM692.55 799.9a5.65 5.65 0 1 0 11.3 0a5.65 5.65 0 1 0 -11.3 0zM723.06 774.7a5.65 5.65 0 1 0 11.3 0a5.65 5.65 0 1 0 -11.3 0zM744.71 756.6a5.65 5.65 0 1 0 11.3 0a5.65 5.65 0 1 0 -11.3 0zM761.50 742.9a5.65 5.65 0 1 0 11.3 0a5.65 5.65 0 1 0 -11.3 0zM775.21 733.5a5.65 5.65 0 1 0 11.3 0a5.65 5.65 0 1 0 -11.3 0zM786.81 726.0a5.65 5.65 0 1 0 11.3 0a5.65 5.65 0 1 0 -11.3 0zM796.86 719.4a5.65 5.65 0 1 0 11.3 0a5.65 5.65 0 1 0 -11.3 0zM805.72 713.5a5.65 5.65 0 1 0 11.3 0a5.65 5.65 0 1 0 -11.3 0zM813.65 708.8a5.65 5.65 0 1 0 11.3 0a5.65 5.65 0 1 0 -11.3 0z" fill="#440154"/>
<path d="M126.3 1103.5l7.7 13.2h-15.4zM178.5 1102.6l7.7 13.2h-15.4zM209.0 1099.9l7.7 13.2h-15.4zM230.6 1094.7l7.7 13.2h-15.4zM247.4 1089.7l7.7 13.2h-15.4zM261.1 1085.5l7.7 13.2h-15.4zM272.7 1083.4l7.7 13.2h-15.4zM282.8 1077.0l7.7 13.2h-15.4zM291.6 1075.6l7.7 13.2h-15.4zM299.6 1071.1l7.7 13.2h-15.4zM351.7 1049.6l7.7 13.2h-15.4zM382.2 1031.8l7.7 13.2h-15.4zM403.9 1016.9l7.7 13.2h-15.4zM420.6 1006.1l7.7 13.2h-15.4zM434.4 995.8l7.7 13.2h-15.4zM446.0 988.7l7.7 13.2h-15.4zM456.0 979.7l7.7 13.2h-15.4zM464.9 973.0l7.7 13.2h-15.4zM472.8 967.5l7.7 13.2h-15.4zM525.0 923.8l7.7 13.2h-15.4zM555.5 896.5l7.7 13.2h-15.4zM577.1 876.2l7.7 13.2h-15.4zM593.9 860.5l7.7 13.2h-15.4zM607.6 847.7l7.7 13.2h-15.4zM619.2 837.7l7.7 13.2h-15.4zM629.3 827.6l7.7 13.2h-15.4zM638.1 819.5l7.7 13.2h-15.4zM646.0 812.8l7.7 13.2h-15.4zM698.2 767.4l7.7 13.2h-15.4zM728.7 741.5l7.7 13.2h-15.4zM750.4 723.9l7.7 13.2h-15.4zM767.1 711.6l7.7 13.2h-15.4zM780.9 702.7l7.7 13.2h-15.4zM792.5 695.6l7.7 13.2h-15.4zM802.5 690.5l7.7 13.2h-15.4zM811.4 685.1l7.7 13.2h-15.4zM819.3 681.1l7.7 13.2h-15.4z" fill="#440154"/>
<path d="M120.65 1112.0a5.65 5.65 0 1 0 11.3 0a5.65 5.65 0 1 0 -11.3 0zM172.80 1110.5a5.65 5.65 0 1 0 11.3 0a5.65 5.65 0 1 0 -11.3 0zM203.31 1108.0a5.65 5.65 0 1 0 11.3 0a5.65 5.65 0 1 0 -11.3 0zM224.96 1104.0a5.65 5.65 0 1 0 11.3 0a5.65 5.65 0 1 0 -11.3 0zM241.75 1099.0a5.65 5.65 0 1 0 11.3 0a5.65 5.65 0 1 0 -11.3 0zM255.46 1095.5a5.65 5.65 0 1 0 11.3 0a5.65 5.65 0 1 0 -11.3 0zM267.06 1092.0a5.65 5.65 0 1 0 11.3 0a5.65 5.65 0 1 0 -11.3 0zM277.11 1089.2a5.65 5.65 0 1 0 11.3 0a5.65 5.65 0 1 0 -11.3 0zM285.97 1087.0a5.65 5.65 0 1 0 11.3 0a5.65 5.65 0 1 0 -11.3 0zM293.90 1084.9a5.65 5.65 0 1 0 11.3 0a5.65 5.65 0 1 0 -11.3 0zM346.05 1062.4a5.65 5.65 0 1 0 11.3 0a5.65 5.65 0 1 0 -11.3 0zM376.56 1047.3a5.65 5.65 0 1 0 11.3 0a5.65 5.65 0 1 0 -11.3 0zM398.21 1036.3a5.65 5.65 0 1 0 11.3 0a5.65 5.65 0 1 0 -11.3 0zM415.00 1026.2a5.65 5.65 0 1 0 11.3 0a5.65 5.65 0 1 0 -11.3 0zM428.71 1017.2a5.65 5.65 0 1 0 11.3 0a5.65 5.65 0 1 0 -11.3 0zM440.31 1010.2a5.65 5.65 0 1 0 11.3 0a5.65 5.65 0 1 0 -11.3 0zM450.36 1003.8a5.65 5.65 0 1 0 11.3 0a5.65 5.65 0 1 0 -11.3 0zM459.22 997.6a5.65 5.65 0 1 0 11.3 0a5.65 5.65 0 1 0 -11.3 0zM467.15 992.4a5.65 5.65 0 1 0 11.3 0a5.65 5.65 0 1 0 -11.3 0zM519.30 957.5a5.65 5.65 0 1 0 11.3 0a5.65 5.65 0 1 0 -11.3 0zM549.81 932.3a5.65 5.65 0 1 0 11.3 0a5.65 5.65 0 1 0 -11.3 0zM571.46 915.5a5.65 5.65 0 1 0 11.3 0a5.65 5.65 0 1 0 -11.3 0zM588.25 903.2a5.65 5.65 0 1 0 11.3 0a5.65 5.65 0 1 0 -11.3 0zM601.96 891.8a5.65 5.65 0 1 0 11.3 0a5.65 5.65 0 1 0 -11.3 0zM613.56 883.1a5.65 5.65 0 1 0 11.3 0a5.65 5.65 0 1 0 -11.3 0zM623.61 875.3a5.65 5.65 0 1 0 11.3 0a5.65 5.65 0 1 0 -11.3 0zM632.47 868.7a5.65 5.65 0 1 0 11.3 0a5.65 5.65 0 1 0 -11.3 0zM640.40 863.8a5.65 5.65 0 1 0 11.3 0a5.65 5.65 0 1 0 -11.3 0zM692.55 825.3a5.65 5.65 0 1 0 11.3 0a5.65 5.65 0 1 0 -11.3 0zM723.06 805.8a5.65 5.65 0 1 0 11.3 0a5.65 5.65 0 1 0 -11.3 0zM744.71 792.8a5.65 5.65 0 1 0 11.3 0a5.65 5.65 0 1 0 -11.3 0zM761.50 782.9a5.65 5.65 0 1 0 11.3 0a5.65 5.65 0 1 0 -11.3 0zM775.21 775.2a5.65 5.65 0 1 0 11.3 0a5.65 5.65 0 1 0 -11.3 0zM786.81 770.0a5.65 5.65 0 1 0 11.3 0a5.65 5.65 0 1 0 -11.3 0zM796.86 764.8a5.65 5.65 0 1 0 11.3 0a5.65 5.65 0 1 0 -11.3 0zM805.72 760.6a5.65 5.65 0 1 0 11.3 0a5.65 5.65 0 1 0 -11.3 0zM813.65 756.6a5.65 5.65 0 1 0 11.3 0a5.65 5.65 0 1 0 -11.3 0z" fill="#21918c"/>
<path d="M126.3 1103.7l7.7 13.2h-15.4zM178.5 1100.2l7.7 13.2h-15.4zM209.0 1094.4l7.7 13.2h-15.4zM230.6 1088.2l7.7 13.2h-15.4zM247.4 1081.2l7.7 13.2h-15.4zM261.1 1077.6l7.7 13.2h-15.4zM272.7 1072.7l7.7 13.2h-15.4zM282.8 1069.9l7.7 13.2h-15.4zM291.6 1066.3l7.7 13.2h-15.4zM299.6 1064.2l7.7 13.2h-15.4zM351.7 1039.8l7.7 13.2h-15.4zM382.2 1024.8l7.7 13.2h-15.4zM403.9 1011.4l7.7 13.2h-15.4zM420.6 1002.0l7.7 13.2h-15.4zM434.4 992.3l7.7 13.2h-15.4zM446.0 985.3l7.7 13.2h-15.4zM456.0 977.6l7.7 13.2h-15.4zM464.9 971.2l7.7 13.2h-15.4zM472.8 966.1l7.7 13.2h-15.4zM525.0 927.7l7.7 13.2h-15.4zM555.5 906.6l7.7 13.2h-15.4zM577.1 889.2l7.7 13.2h-15.4zM593.9 875.7l7.7 13.2h-15.4zM607.6 866.6l7.7 13.2h-15.4zM619.2 856.3l7.7 13.2h-15.4zM629.3 848.8l7.7 13.2h-15.4zM638.1 842.2l7.7 13.2h-15.4zM646.0 836.5l7.7 13.2h-15.4zM698.2 802.3l7.7 13.2h-15.4zM728.7 782.2l7.7 13.2h-15.4zM750.4 770.5l7.7 13.2h-15.4zM767.1 761.0l7.7 13.2h-15.4zM780.9 755.2l7.7 13.2h-15.4zM792.5 749.8l7.7 13.2h-15.4zM802.5 745.0l7.7 13.2h-15.4zM811.4 741.0l7.7 13.2h-15.4zM819.3 738.2l7.7 13.2h-15.4z" fill="#21918c"/>
<path d="M120.65 1111.8a5.65 5.65 0 1 0 11.3 0a5.65 5.65 0 1 0 -11.3 0zM172.80 1111.5a5.65 5.65 0 1 0 11.3 0a5.65 5.65 0 1 0 -11.3 0zM203.31 1110.8a5.65 5.65 0 1 0 11.3 0a5.65 5.65 0 1 0 -11.3 0zM224.96 1110.4a5.65 5.65 0 1 0 11.3 0a5.65 5.65 0 1 0 -11.3 0zM241.75 1106.1a5.65 5.65 0 1 0 11.3 0a5.65 5.65 0 1 0 -11.3 0zM255.46 1103.6a5.65 5.65 0 1 0 11.3 0a5.65 5.65 0 1 0 -11.3 0zM267.06 1102.3a5.65 5.65 0 1 0 11.3 0a5.65 5.65 0 1 0 -11.3 0zM277.11 1097.4a5.65 5.65 0 1 0 11.3 0a5.65 5.65 0 1 0 -11.3 0zM285.97 1096.2a5.65 5.65 0 1 0 11.3 0a5.65 5.65 0 1 0 -11.3 0zM293.90 1094.3a5.65 5.65 0 1 0 11.3 0a5.65 5.65 0 1 0 -11.3 0zM346.05 1068.2a5.65 5.65 0 1 0 11.3 0a5.65 5.65 0 1 0 -11.3 0zM376.56 1054.4a5.65 5.65 0 1 0 11.3 0a5.65 5.65 0 1 0 -11.3 0zM398.21 1043.7a5.65 5.65 0 1 0 11.3 0a5.65 5.65 0 1 0 -11.3 0zM415.00 1034.2a5.65 5.65 0 1 0 11.3 0a5.65 5.65 0 1 0 -11.3 0zM428.71 1025.0a5.65 5.65 0 1 0 11.3 0a5.65 5.65 0 1 0 -11.3 0zM440.31 1016.2a5.65 5.65 0 1 0 11.3 0a5.65 5.65 0 1 0 -11.3 0zM450.36 1009.8a5.65 5.65 0 1 0 11.3 0a5.65 5.65 0 1 0 -11.3 0zM459.22 1003.4a5.65 5.65 0 1 0 11.3 0a5.65 5.65 0 1 0 -11.3 0zM467.15 997.5a5.65 5.65 0 1 0 11.3 0a5.65 5.65 0 1 0 -11.3 0zM519.30 956.5a5.65 5.65 0 1 0 11.3 0a5.65 5.65 0 1 0 -11.3 0zM549.81 931.8a5.65 5.65 0 1 0 11.3 0a5.65 5.65 0 1 0 -11.3 0zM571.46 913.4a5.65 5.65 0 1 0 11.3 0a5.65 5.65 0 1 0 -11.3 0zM588.25 898.8a5.65 5.65 0 1 0 11.3 0a5.65 5.65 0 1 0 -11.3 0zM601.96 887.1a5.65 5.65 0 1 0 11.3 0a5.65 5.65 0 1 0 -11.3 0zM613.56 877.2a5.65 5.65 0 1 0 11.3 0a5.65 5.65 0 1 0 -11.3 0zM623.61 868.2a5.65 5.65 0 1 0 11.3 0a5.65 5.65 0 1 0 -11.3 0zM632.47 859.3a5.65 5.65 0 1 0 11.3 0a5.65 5.65 0 1 0 -11.3 0zM640.40 852.9a5.65 5.65 0 1 0 11.3 0a5.65 5.65 0 1 0 -11.3 0zM692.55 806.5a5.65 5.65 0 1 0 11.3 0a5.65 5.65 0 1 0 -11.3 0zM723.06 781.8a5.65 5.65 0 1 0 11.3 0a5.65 5.65 0 1 0 -11.3 0zM744.71 763.6a5.65 5.65 0 1 0 11.3 0a5.65 5.65 0 1 0 -11.3 0zM761.50 751.2a5.65 5.65 0 1 0 11.3 0a5.65 5.65 0 1 0 -11.3 0zM775.21 741.1a5.65 5.65 0 1 0 11.3 0a5.65 5.65 0 1 0 -11.3 0zM786.81 733.1a5.65 5.65 0 1 0 11.3 0a5.65 5.65 0 1 0 -11.3 0zM796.86 726.5a5.65 5.65 0 1 0 11.3 0a5.65 5.65 0 1 0 -11.3 0zM805.72 721.1a5.65 5.65 0 1 0 11.3 0a5.65 5.65 0 1 0 -11.3 0zM813.65 716.4a5.65 5.65 0 1 0 11.3 0a5.65 5.65 0 1 0 -11.3 0z" fill="#f0e51f"/>
<path d="M126.3 1103.5l7.7 13.2h-15.4zM178.5 1101.8l7.7 13.2h-15.4zM209.0 1098.7l7.7 13.2h-15.4zM230.6 1093.2l7.7 13.2h-15.4zM247.4 1088.2l7.7 13.2h-15.4zM261.1 1084.0l7.7 13.2h-15.4zM272.7 1081.9l7.7 13.2h-15.4zM282.8 1075.5l7.7 13.2h-15.4zM291.6 1074.1l7.7 13.2h-15.4zM299.6 1069.4l7.7 13.2h-15.4zM351.7 1047.2l7.7 13.2h-15.4zM382.2 1029.6l7.7 13.2h-15.4zM403.9 1014.9l7.7 13.2h-15.4zM420.6 1004.3l7.7 13.2h-15.4zM434.4 994.2l7.7 13.2h-15.4zM446.0 987.7l7.7 13.2h-15.4zM456.0 979.2l7.7 13.2h-15.4zM464.9 972.8l7.7 13.2h-15.4zM472.8 967.5l7.7 13.2h-15.4zM525.0 925.3l7.7 13.2h-15.4zM555.5 900.5l7.7 13.2h-15.4zM577.1 880.7l7.7 13.2h-15.4zM593.9 865.0l7.7 13.2h-15.4zM607.6 853.7l7.7 13.2h-15.4zM619.2 842.7l7.7 13.2h-15.4zM629.3 833.6l7.7 13.2h-15.4zM638.1 825.5l7.7 13.2h-15.4zM646.0 818.2l7.7 13.2h-15.4zM698.2 772.8l7.7 13.2h-15.4zM728.7 746.9l7.7 13.2h-15.4zM750.4 729.3l7.7 13.2h-15.4zM767.1 717.0l7.7 13.2h-15.4zM780.9 708.1l7.7 13.2h-15.4zM792.5 701.0l7.7 13.2h-15.4zM802.5 695.9l7.7 13.2h-15.4zM811.4 690.5l7.7 13.2h-15.4zM819.3 686.5l7.7 13.2h-15.4z" fill="#f0e51f"/>
<path d="M75.0 644.9h13M849.9 644.9h-14.3" stroke="#000" stroke-width="2.3"/>
<path d="M75.0 693.6h7M849.9 693.6h-8.3" stroke="#000" stroke-width="2.3"/>
<path d="M75.0 742.4h13M849.9 742.4h-14.3" stroke="#000" stroke-width="2.3"/>
<path d="M75.0 791.2h7M849.9 791.2h-8.3" stroke="#000" stroke-width="2.3"/>
<path d="M75.0 839.9h13M849.9 839.9h-14.3" stroke="#000" stroke-width="2.3"/>
<path d="M75.0 888.7h7M849.9 888.7h-8.3" stroke="#000" stroke-width="2.3"/>
<path d="M75.0 937.5h13M849.9 937.5h-14.3" stroke="#000" stroke-width="2.3"/>
<path d="M75.0 986.2h7M849.9 986.2h-8.3" stroke="#000" stroke-width="2.3"/>
<path d="M75.0 1035.0h13M849.9 1035.0h-14.3" stroke="#000" stroke-width="2.3"/>
<path d="M75.0 1083.8h7M849.9 1083.8h-8.3" stroke="#000" stroke-width="2.3"/>
<path d="M75.0 1132.5h13M849.9 1132.5h-14.3" stroke="#000" stroke-width="2.3"/>
<path d="M87.9 620.95v6.8M87.9 1156.35v-6.8" stroke="#000" stroke-width="2.3"/>
<path d="M99.5 620.95v6.8M99.5 1156.35v-6.8" stroke="#000" stroke-width="2.3"/>
<path d="M109.5 620.95v6.8M109.5 1156.35v-6.8" stroke="#000" stroke-width="2.3"/>
<path d="M118.4 620.95v6.8M118.4 1156.35v-6.8" stroke="#000" stroke-width="2.3"/>
<path d="M126.3 620.95v13M126.3 1156.35v-13" stroke="#000" stroke-width="2.3"/>
<path d="M178.5 620.95v6.8M178.5 1156.35v-6.8" stroke="#000" stroke-width="2.3"/>
<path d="M209.0 620.95v6.8M209.0 1156.35v-6.8" stroke="#000" stroke-width="2.3"/>
<path d="M230.6 620.95v6.8M230.6 1156.35v-6.8" stroke="#000" stroke-width="2.3"/>
<path d="M247.4 620.95v6.8M247.4 1156.35v-6.8" stroke="#000" stroke-width="2.3"/>
<path d="M261.1 620.95v6.8M261.1 1156.35v-6.8" stroke="#000" stroke-width="2.3"/>
<path d="M272.7 620.95v6.8M272.7 1156.35v-6.8" stroke="#000" stroke-width="2.3"/>
<path d="M282.8 620.95v6.8M282.8 1156.35v-6.8" stroke="#000" stroke-width="2.3"/>
<path d="M291.6 620.95v6.8M291.6 1156.35v-6.8" stroke="#000" stroke-width="2.3"/>
<path d="M299.6 620.95v13M299.6 1156.35v-13" stroke="#000" stroke-width="2.3"/>
<path d="M351.7 620.95v6.8M351.7 1156.35v-6.8" stroke="#000" stroke-width="2.3"/>
<path d="M382.2 620.95v6.8M382.2 1156.35v-6.8" stroke="#000" stroke-width="2.3"/>
<path d="M403.9 620.95v6.8M403.9 1156.35v-6.8" stroke="#000" stroke-width="2.3"/>
<path d="M420.6 620.95v6.8M420.6 1156.35v-6.8" stroke="#000" stroke-width="2.3"/>
<path d="M434.4 620.95v6.8M434.4 1156.35v-6.8" stroke="#000" stroke-width="2.3"/>
<path d="M446.0 620.95v6.8M446.0 1156.35v-6.8" stroke="#000" stroke-width="2.3"/>
<path d="M456.0 620.95v6.8M456.0 1156.35v-6.8" stroke="#000" stroke-width="2.3"/>
<path d="M464.9 620.95v6.8M464.9 1156.35v-6.8" stroke="#000" stroke-width="2.3"/>
<path d="M472.8 620.95v13M472.8 1156.35v-13" stroke="#000" stroke-width="2.3"/>
<path d="M525.0 620.95v6.8M525.0 1156.35v-6.8" stroke="#000" stroke-width="2.3"/>
<path d="M555.5 620.95v6.8M555.5 1156.35v-6.8" stroke="#000" stroke-width="2.3"/>
<path d="M577.1 620.95v6.8M577.1 1156.35v-6.8" stroke="#000" stroke-width="2.3"/>
<path d="M593.9 620.95v6.8M593.9 1156.35v-6.8" stroke="#000" stroke-width="2.3"/>
<path d="M607.6 620.95v6.8M607.6 1156.35v-6.8" stroke="#000" stroke-width="2.3"/>
<path d="M619.2 620.95v6.8M619.2 1156.35v-6.8" stroke="#000" stroke-width="2.3"/>
<path d="M629.3 620.95v6.8M629.3 1156.35v-6.8" stroke="#000" stroke-width="2.3"/>
<path d="M638.1 620.95v6.8M638.1 1156.35v-6.8" stroke="#000" stroke-width="2.3"/>
<path d="M646.0 620.95v13M646.0 1156.35v-13" stroke="#000" stroke-width="2.3"/>
<path d="M698.2 620.95v6.8M698.2 1156.35v-6.8" stroke="#000" stroke-width="2.3"/>
<path d="M728.7 620.95v6.8M728.7 1156.35v-6.8" stroke="#000" stroke-width="2.3"/>
<path d="M750.4 620.95v6.8M750.4 1156.35v-6.8" stroke="#000" stroke-width="2.3"/>
<path d="M767.1 620.95v6.8M767.1 1156.35v-6.8" stroke="#000" stroke-width="2.3"/>
<path d="M780.9 620.95v6.8M780.9 1156.35v-6.8" stroke="#000" stroke-width="2.3"/>
<path d="M792.5 620.95v6.8M792.5 1156.35v-6.8" stroke="#000" stroke-width="2.3"/>
<path d="M802.5 620.95v6.8M802.5 1156.35v-6.8" stroke="#000" stroke-width="2.3"/>
<path d="M811.4 620.95v6.8M811.4 1156.35v-6.8" stroke="#000" stroke-width="2.3"/>
<path d="M819.3 620.95v13M819.3 1156.35v-13" stroke="#000" stroke-width="2.3"/>
<rect x="75.0" y="620.95" width="774.9" height="535.3999999999999" fill="none" stroke="#3c3c3c" stroke-width="1.3"/>
<g transform="translate(32.81,653.75) scale(0.975,1.04)" fill="#444444"><path transform="translate(0.00,0) scale(0.01084,-0.01084)" d="M763 0H583V1147Q518 1085 412.5 1023Q307 961 223 930V1104Q374 1175 487 1276Q600 1377 647 1472H763Z"/><text x="12.34" y="0" font-size="22.2">.0</text></g>
<g transform="translate(32.81,751.29) scale(0.975,1.04)" fill="#444444"><text x="0.00" y="0" font-size="22.2">0.8</text></g>
<g transform="translate(32.81,848.83) scale(0.975,1.04)" fill="#444444"><text x="0.00" y="0" font-size="22.2">0.6</text></g>
<g transform="translate(32.81,946.37) scale(0.975,1.04)" fill="#444444"><text x="0.00" y="0" font-size="22.2">0.4</text></g>
<g transform="translate(32.81,1043.91) scale(0.975,1.04)" fill="#444444"><text x="0.00" y="0" font-size="22.2">0.2</text></g>
<g transform="translate(32.81,1141.45) scale(0.975,1.04)" fill="#444444"><text x="0.00" y="0" font-size="22.2">0.0</text></g>
<g transform="translate(105.00,1190.85) scale(0.975,1.04)" fill="#444444"><path transform="translate(0.00,0) scale(0.01084,-0.01084)" d="M763 0H583V1147Q518 1085 412.5 1023Q307 961 223 930V1104Q374 1175 487 1276Q600 1377 647 1472H763Z"/><text x="12.34" y="0" font-size="22.2">0</text></g>
<g transform="translate(129.97,1179.95) scale(0.975,1.04)" fill="#444444"><text x="0.00" y="0" font-size="15.5">−7</text></g>
<g transform="translate(278.25,1190.85) scale(0.975,1.04)" fill="#444444"><path transform="translate(0.00,0) scale(0.01084,-0.01084)" d="M763 0H583V1147Q518 1085 412.5 1023Q307 961 223 930V1104Q374 1175 487 1276Q600 1377 647 1472H763Z"/><text x="12.34" y="0" font-size="22.2">0</text></g>
<g transform="translate(303.22,1179.95) scale(0.975,1.04)" fill="#444444"><text x="0.00" y="0" font-size="15.5">−6</text></g>
<g transform="translate(451.50,1190.85) scale(0.975,1.04)" fill="#444444"><path transform="translate(0.00,0) scale(0.01084,-0.01084)" d="M763 0H583V1147Q518 1085 412.5 1023Q307 961 223 930V1104Q374 1175 487 1276Q600 1377 647 1472H763Z"/><text x="12.34" y="0" font-size="22.2">0</text></g>
<g transform="translate(476.47,1179.95) scale(0.975,1.04)" fill="#444444"><text x="0.00" y="0" font-size="15.5">−5</text></g>
<g transform="translate(624.75,1190.85) scale(0.975,1.04)" fill="#444444"><path transform="translate(0.00,0) scale(0.01084,-0.01084)" d="M763 0H583V1147Q518 1085 412.5 1023Q307 961 223 930V1104Q374 1175 487 1276Q600 1377 647 1472H763Z"/><text x="12.34" y="0" font-size="22.2">0</text></g>
<g transform="translate(649.72,1179.95) scale(0.975,1.04)" fill="#444444"><text x="0.00" y="0" font-size="15.5">−4</text></g>
<g transform="translate(798.00,1190.85) scale(0.975,1.04)" fill="#444444"><path transform="translate(0.00,0) scale(0.01084,-0.01084)" d="M763 0H583V1147Q518 1085 412.5 1023Q307 961 223 930V1104Q374 1175 487 1276Q600 1377 647 1472H763Z"/><text x="12.34" y="0" font-size="22.2">0</text></g>
<g transform="translate(822.97,1179.95) scale(0.975,1.04)" fill="#444444"><text x="0.00" y="0" font-size="15.5">−3</text></g>
<text x="461.4" y="1224.1" text-anchor="middle" class="ser" font-size="29" fill="#000">λ</text>
<g transform="translate(0.5,0)">
<circle cx="695" cy="918.3" r="5.85" fill="#000"/>
<path d="M695.1 947.2l7.7 13.7h-15.4z" fill="#000"/>
<text transform="translate(713.40,924.30) scale(0.975,1.04)" font-size="22.2" fill="#000">R</text>
<text transform="translate(729.30,928.90) scale(0.975,1.04)" font-size="15.5" fill="#000">0</text>
<text transform="translate(743.20,926.10) scale(0.975,1.04)" font-size="22.2" fill="#000">=</text>
<g transform="translate(760.60,924.30) scale(0.975,1.04)" fill="#000"><path transform="translate(0.00,0) scale(0.01084,-0.01084)" d="M763 0H583V1147Q518 1085 412.5 1023Q307 961 223 930V1104Q374 1175 487 1276Q600 1377 647 1472H763Z"/><text x="12.34" y="0" font-size="22.2">.5</text></g>
<text transform="translate(713.40,962.20) scale(0.975,1.04)" font-size="22.2" fill="#000">R</text>
<text transform="translate(729.30,966.80) scale(0.975,1.04)" font-size="15.5" fill="#000">0</text>
<text transform="translate(743.20,964.00) scale(0.975,1.04)" font-size="22.2" fill="#000">=</text>
<g transform="translate(761.00,962.20) scale(0.975,1.04)" fill="#000"><text x="0.00" y="0" font-size="22.2">2.0</text></g>
<path d="M679.6 1020.0H710" stroke="#440154" stroke-width="2.4"/>
<circle cx="694.9" cy="1020.0" r="6.1" fill="#440154"/>
<text transform="translate(713.40,1028.80) scale(0.975,1.04)" font-size="22.6" fill="#000">OD</text>
<path d="M679.6 1057.8H710" stroke="#21918c" stroke-width="2.4"/>
<circle cx="694.9" cy="1057.8" r="6.1" fill="#21918c"/>
<text transform="translate(713.40,1066.60) scale(0.975,1.04)" font-size="22.6" fill="#000">SP</text>
<path d="M679.6 1095.6H710" stroke="#f0e51f" stroke-width="2.4"/>
<circle cx="694.9" cy="1095.6" r="6.1" fill="#f0e51f"/>
<text transform="translate(713.40,1104.40) scale(0.975,1.04)" font-size="22.6" fill="#000">RD</text>
</g>
<text transform="translate(19.8,888.2) rotate(-90)" text-anchor="middle" font-size="26.7" fill="#000">D/V</text>
</svg></body></html>
